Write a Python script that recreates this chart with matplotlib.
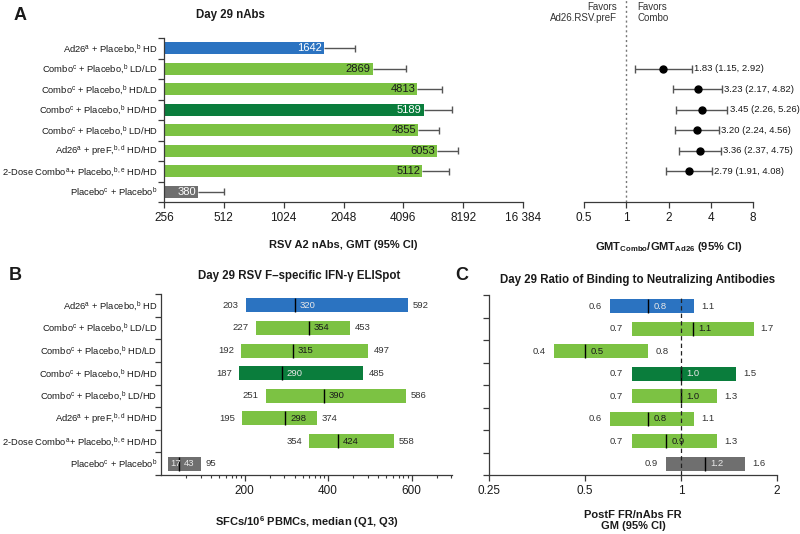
import numpy as np
import matplotlib
matplotlib.use("Agg")
import matplotlib.pyplot as plt
from matplotlib.ticker import FixedLocator

plt.rcParams['font.family'] = ['Liberation Sans', 'DejaVu Sans']
plt.rcParams['mathtext.fontset'] = 'custom'
plt.rcParams['mathtext.rm'] = 'Liberation Sans'
plt.rcParams['mathtext.it'] = 'Liberation Sans:italic'
plt.rcParams['mathtext.bf'] = 'Liberation Sans:bold'

# ---------------- data ----------------
groups = [
    r"Ad26$^{\rm a}$ + Placebo,$^{\rm b}$ HD",
    r"Combo$^{\rm c}$ + Placebo,$^{\rm b}$ LD/LD",
    r"Combo$^{\rm c}$ + Placebo,$^{\rm b}$ HD/LD",
    r"Combo$^{\rm c}$ + Placebo,$^{\rm b}$ HD/HD",
    r"Combo$^{\rm c}$ + Placebo,$^{\rm b}$ LD/HD",
    r"Ad26$^{\rm a}$ + preF,$^{\rm b,d}$ HD/HD",
    r"2-Dose Combo$^{\rm a}$+ Placebo,$^{\rm b,e}$ HD/HD",
    r"Placebo$^{\rm c}$ + Placebo$^{\rm b}$",
]
bar_colors = ["#2b73c1", "#7cc243", "#7cc243", "#0a7d3c", "#7cc243", "#7cc243", "#7cc243", "#6f6f6f"]
light_text = [True, False, False, True, False, False, False, True]

# Panel A: GMT and upper 95% CI
gmt = [1642, 2869, 4813, 5189, 4855, 6053, 5112, 380]
gmt_upper = [2330, 4220, 6380, 7230, 6160, 7740, 6940, 512]
a_ticks = [256, 512, 1024, 2048, 4096, 8192, 16384]
a_ticklabels = ["256", "512", "1024", "2048", "4096", "8192", "16 384"]

# Panel A forest: GMT ratio (rows 1..6)
ratio_rows = [1, 2, 3, 4, 5, 6]
ratio = [1.83, 3.23, 3.45, 3.20, 3.36, 2.79]
ratio_lo = [1.15, 2.17, 2.26, 2.24, 2.37, 1.91]
ratio_hi = [2.92, 4.82, 5.26, 4.56, 4.75, 4.08]
f_ticks = [0.5, 1, 2, 4, 8]
f_ticklabels = ["0.5", "1", "2", "4", "8"]

# Panel B: ELISpot median (Q1, Q3)
b_q1 = [203, 227, 192, 187, 251, 195, 354, 17]
b_med = [320, 354, 315, 290, 390, 298, 424, 43]
b_q3 = [592, 453, 497, 485, 586, 374, 558, 95]
b_ticks = [200, 400, 600]

# Panel C: ratio GM (95% CI)
c_lo = [0.60, 0.70, 0.40, 0.70, 0.70, 0.60, 0.70, 0.90]
c_gm = [0.79, 1.09, 0.50, 1.00, 1.00, 0.79, 0.90, 1.19]
c_hi = [1.10, 1.69, 0.79, 1.49, 1.30, 1.10, 1.30, 1.59]
c_ticks = [0.25, 0.5, 1, 2]
c_ticklabels = ["0.25", "0.5", "1", "2"]

# ---------------- layout ----------------
W, H = 800, 534
fig = plt.figure(figsize=(W / 100, H / 100), dpi=100)


def rect(l, r, t, b):
    return [l / W, 1 - b / H, (r - l) / W, (b - t) / H]


SPINE = "#3a3a3a"
TXT = "#1a1a1a"
rows = np.arange(len(groups))


def style_axis(ax, left=True):
    for s in ["top", "right"]:
        ax.spines[s].set_visible(False)
    ax.spines["left"].set_visible(left)
    for s in ["left", "bottom"]:
        ax.spines[s].set_color(SPINE)
        ax.spines[s].set_linewidth(0.9)
    ax.tick_params(axis="x", direction="out", length=4.5, width=0.9, color=SPINE,
                   labelsize=8.5, labelcolor=TXT, pad=3)
    ax.tick_params(axis="x", which="minor", length=2.5, width=0.8, color=SPINE)
    ax.set_ylim(len(groups) - 0.5, -0.5)
    if left:
        ax.set_yticks(np.arange(-0.5, len(groups), 1))
        ax.set_yticklabels([])
        ax.tick_params(axis="y", direction="out", length=4.5, width=0.9, color=SPINE)
    else:
        ax.set_yticks([])


def row_labels(ax, off):
    for i, g in enumerate(groups):
        ax.annotate(g, xy=(0, i), xycoords=("axes fraction", "data"),
                    xytext=(off, 0), textcoords="offset points",
                    ha="right", va="center", fontsize=6.75, color=TXT)


# ---------- Panel A bars ----------
axA = fig.add_axes(rect(164, 523, 38, 202))
axA.set_xscale("log", base=2)
axA.set_xlim(256, 16384)
style_axis(axA)
axA.hlines(rows, gmt, gmt_upper, color="#555555", lw=1.0, zorder=1)
axA.vlines(gmt_upper, rows - 0.17, rows + 0.17, color="#555555", lw=1.0, zorder=1)
axA.barh(rows, np.array(gmt) - 256, left=256, height=0.6, color=bar_colors, zorder=2)
for i, v in enumerate(gmt):
    axA.annotate(f"{v}", xy=(v, i), xytext=(-1.5, 0), textcoords="offset points",
                 ha="right", va="center", fontsize=8,
                 color="white" if light_text[i] else TXT, zorder=3)
axA.set_xticks(a_ticks)
axA.set_xticklabels(a_ticklabels)
axA.xaxis.set_minor_locator(FixedLocator([]))
axA.set_xlabel("RSV A2 nAbs, GMT (95% CI)", fontsize=8, fontweight="bold",
               color=TXT, labelpad=11)
row_labels(axA, -4.5)
fig.text(230 / W, 1 - 15 / H, "Day 29 nAbs", ha="center", va="center",
         fontsize=8.3, fontweight="bold", color=TXT)
fig.text(20 / W, 1 - 15 / H, "A", ha="center", va="center", fontsize=13,
         fontweight="bold", color=TXT)

# ---------- Panel A forest ----------
axF = fig.add_axes(rect(584, 753, 38, 202))
axF.set_xscale("log", base=2)
axF.set_xlim(0.5, 8)
style_axis(axF, left=False)
axF.set_xticks(f_ticks)
axF.set_xticklabels(f_ticklabels)
axF.xaxis.set_minor_locator(FixedLocator([]))
axF.axvline(1, ymin=0, ymax=(202 - 0) / 164, color="#777777", lw=1.0,
            ls=(0, (1.5, 2)), clip_on=False, zorder=0)
axF.hlines(ratio_rows, ratio_lo, ratio_hi, color="#555555", lw=1.0)
axF.vlines(ratio_lo, np.array(ratio_rows) - 0.2, np.array(ratio_rows) + 0.2, color="#555555", lw=1.0)
axF.vlines(ratio_hi, np.array(ratio_rows) - 0.2, np.array(ratio_rows) + 0.2, color="#555555", lw=1.0)
axF.plot(ratio, ratio_rows, "o", color="black", ms=5, zorder=3)
for r, v, lo, hi in zip(ratio_rows, ratio, ratio_lo, ratio_hi):
    axF.annotate(f"{v:.2f} ({lo:.2f}, {hi:.2f})", xy=(hi, r), xytext=(1.5, 0),
                 textcoords="offset points", ha="left", va="center",
                 fontsize=6.8, color=TXT)
axF.annotate("Favors\nAd26.RSV.preF", xy=(1, 1), xycoords=("data", "axes fraction"),
             xytext=(-7, 26), textcoords="offset points", ha="right", va="top",
             fontsize=7, color="#333333", linespacing=1.1)
axF.annotate("Favors\nCombo", xy=(1, 1), xycoords=("data", "axes fraction"),
             xytext=(8, 26), textcoords="offset points", ha="left", va="top",
             fontsize=7, color="#333333", linespacing=1.1)
axF.set_xlabel(r"GMT$_{\mathbf{Combo}}$/GMT$_{\mathbf{Ad26}}$ (95% CI)", fontsize=8,
               fontweight="bold", color=TXT, labelpad=11)

# ---------- Panel B ----------
axB = fig.add_axes(rect(161, 452, 294, 475))
axB.set_xlim(0, 697)
style_axis(axB)
b_minor = [a + 200 * np.log10(k) for a in (0, 200, 400, 600) for k in range(2, 10)]
b_minor = [m for m in b_minor if m <= 697]
axB.set_xticks(b_ticks)
axB.xaxis.set_minor_locator(FixedLocator(b_minor))
axB.barh(rows, np.array(b_q3) - np.array(b_q1), left=b_q1, height=0.62,
         color=bar_colors, zorder=2)
axB.vlines(b_med, rows - 0.31, rows + 0.31, color="black", lw=1.0, zorder=3)
for i in rows:
    if b_q1[i] < 60:
        axB.annotate(f"{b_q1[i]}", xy=(b_q1[i], i), xytext=(1.5, 0), textcoords="offset points",
                     ha="left", va="center", fontsize=6.8, color="#e8e8e8", zorder=4)
    else:
        axB.annotate(f"{b_q1[i]}", xy=(b_q1[i], i), xytext=(-5, 0), textcoords="offset points",
                     ha="right", va="center", fontsize=6.8, color="#333333")
    axB.annotate(f"{b_med[i]}", xy=(b_med[i], i), xytext=(3.5, 0), textcoords="offset points",
                 ha="left", va="center", fontsize=6.8,
                 color="#e8e8e8" if light_text[i] else TXT, zorder=4)
    axB.annotate(f"{b_q3[i]}", xy=(b_q3[i], i), xytext=(3.5, 0), textcoords="offset points",
                 ha="left", va="center", fontsize=6.8, color="#333333")
axB.set_xlabel(r"SFCs/10$^{\mathbf{6}}$ PBMCs, median (Q1, Q3)", fontsize=8,
               fontweight="bold", color=TXT, labelpad=12)
row_labels(axB, -2.5)
fig.text(299 / W, 1 - 276 / H, "Day 29 RSV F\u2013specific IFN-\u03b3 ELISpot", ha="center",
         va="center", fontsize=8.3, fontweight="bold", color=TXT)
fig.text(15 / W, 1 - 275 / H, "B", ha="center", va="center", fontsize=13,
         fontweight="bold", color=TXT)

# ---------- Panel C ----------
axC = fig.add_axes(rect(489, 777, 295, 475))
axC.set_xscale("log", base=2)
axC.set_xlim(0.25, 2)
style_axis(axC)
axC.set_xticks(c_ticks)
axC.set_xticklabels(c_ticklabels)
axC.xaxis.set_minor_locator(FixedLocator([]))
axC.axvline(1, color="#222222", lw=0.9, ls=(0, (3.5, 2.5)), zorder=5)
axC.barh(rows, np.array(c_hi) - np.array(c_lo), left=c_lo, height=0.62,
         color=bar_colors, zorder=2)
axC.vlines(c_gm, rows - 0.31, rows + 0.31, color="black", lw=1.0, zorder=3)
for i in rows:
    axC.annotate(f"{c_lo[i]:.1f}", xy=(c_lo[i], i), xytext=(-6, 0), textcoords="offset points",
                 ha="right", va="center", fontsize=6.8, color="#333333")
    axC.annotate(f"{c_gm[i]:.1f}", xy=(c_gm[i], i), xytext=(4, 0), textcoords="offset points",
                 ha="left", va="center", fontsize=6.8,
                 color="#e8e8e8" if light_text[i] else TXT, zorder=6)
    axC.annotate(f"{c_hi[i]:.1f}", xy=(c_hi[i], i), xytext=(5, 0), textcoords="offset points",
                 ha="left", va="center", fontsize=6.8, color="#333333")
axC.set_xlabel("PostF FR/nAbs FR\nGM (95% CI)", fontsize=8, fontweight="bold",
               color=TXT, labelpad=9, linespacing=1.15)
axC.set_title("Day 29 Ratio of Binding to Neutralizing Antibodies", fontsize=8.3,
              fontweight="bold", color=TXT, x=0.515, pad=9)
fig.text(462 / W, 1 - 276 / H, "C", ha="center", va="center", fontsize=13,
         fontweight="bold", color=TXT)

fig.savefig("out.png", dpi=100)
